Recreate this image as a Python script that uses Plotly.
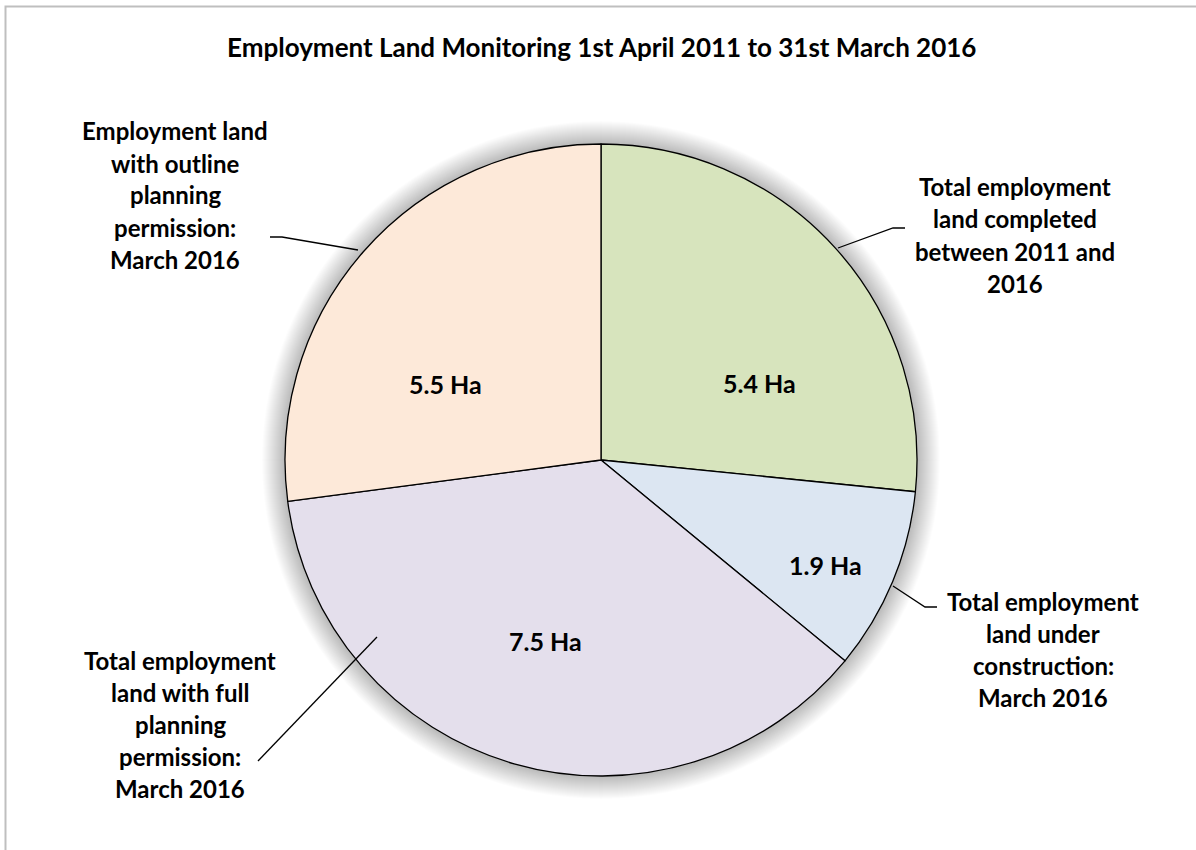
import plotly.graph_objects as go

# ---- data ----
categories = [
    "Total employment<br>land completed<br>between 2011 and<br>2016",
    "Total employment<br>land under<br>construction:<br>March 2016",
    "Total employment<br>land with full<br>planning<br>permission:<br>March 2016",
    "Employment land<br>with outline<br>planning<br>permission:<br>March 2016",
]
values = [5.4, 1.9, 7.5, 5.5]
value_labels = ["5.4 Ha", "1.9 Ha", "7.5 Ha", "5.5 Ha"]
colors = ["#D7E4BD", "#DCE6F2", "#E4DFEC", "#FDE9D9"]
title = "Employment Land Monitoring 1st April 2011 to 31st March 2016"

# ---- layout helpers (pixel -> paper) ----
W, H = 1196, 850
CX, CY, R = 601, 460, 316


def px(x):
    return x / W


def py(y):
    return 1 - y / H


FONT = "Lato"

fig = go.Figure()
fig.add_trace(go.Pie(
    labels=[c.replace("<br>", " ") for c in categories],
    values=values,
    sort=False,
    direction="clockwise",
    rotation=0,
    marker=dict(colors=colors, line=dict(color="#000000", width=1.3)),
    textinfo="none",
    hoverinfo="label+value",
    showlegend=False,
    domain=dict(x=[px(CX - R), px(CX + R)], y=[py(CY + R), py(CY - R)]),
))

annotations = []
shapes = []

# soft glow/shadow around pie
for k in range(1, 24):
    r = R + k
    shapes.append(dict(type="circle", xref="paper", yref="paper", layer="below",
                       x0=px(CX - r), x1=px(CX + r), y0=py(CY + r), y1=py(CY - r),
                       line=dict(width=0), fillcolor="rgba(0,0,0,0.011)"))

# chart border
shapes.append(dict(type="rect", xref="paper", yref="paper",
                   x0=px(5.5), x1=px(W + 10), y0=py(H + 10), y1=py(6.5),
                   line=dict(color="#BFBFBF", width=2), fillcolor="rgba(0,0,0,0)", layer="below"))

# title
annotations.append(dict(text="<b>%s</b>" % title, x=px(601), y=py(47), xref="paper", yref="paper",
                        showarrow=False, xanchor="center", yanchor="middle",
                        font=dict(family=FONT, size=26, color="#000000")))

# value labels inside slices (positions)
value_pos = [(759, 383), (825, 565), (545, 641), (446, 384)]
for lab, (x, y) in zip(value_labels, value_pos):
    annotations.append(dict(text="<b>%s</b>" % lab, x=px(x), y=py(y), xref="paper", yref="paper",
                            showarrow=False, xanchor="center", yanchor="middle",
                            font=dict(family=FONT, size=25, color="#000000")))

# outside category labels: (center x, first line y)
label_pos = [(1015, 187), (1043, 601), (180, 660), (175, 131)]
LINE = 32
for cat, (x, y0) in zip(categories, label_pos):
    for i, line in enumerate(cat.split("<br>")):
        annotations.append(dict(text="<b>%s</b>" % line, x=px(x), y=py(y0 + i * LINE),
                                xref="paper", yref="paper", showarrow=False,
                                xanchor="center", yanchor="middle",
                                font=dict(family=FONT, size=24, color="#000000")))

# leader lines: pie anchor -> elbow -> end
leaders = [
    [(838, 248), (893, 228), (905, 228)],
    [(893, 586), (925, 607), (937, 607)],
    [(377, 637), (258, 761)],
    [(358, 250), (282, 237), (270, 237)],
]
for pts in leaders:
    path = "M " + " L ".join("%f,%f" % (px(x), py(y)) for x, y in pts)
    shapes.append(dict(type="path", xref="paper", yref="paper", path=path,
                       line=dict(color="#000000", width=1.3)))

fig.update_layout(
    width=W, height=H,
    margin=dict(l=0, r=0, t=0, b=0),
    paper_bgcolor="#FFFFFF",
    plot_bgcolor="#FFFFFF",
    annotations=annotations,
    shapes=shapes,
)

fig.write_html("out.html", config={"displayModeBar": False},
               post_script="document.body.style.margin='0';")
